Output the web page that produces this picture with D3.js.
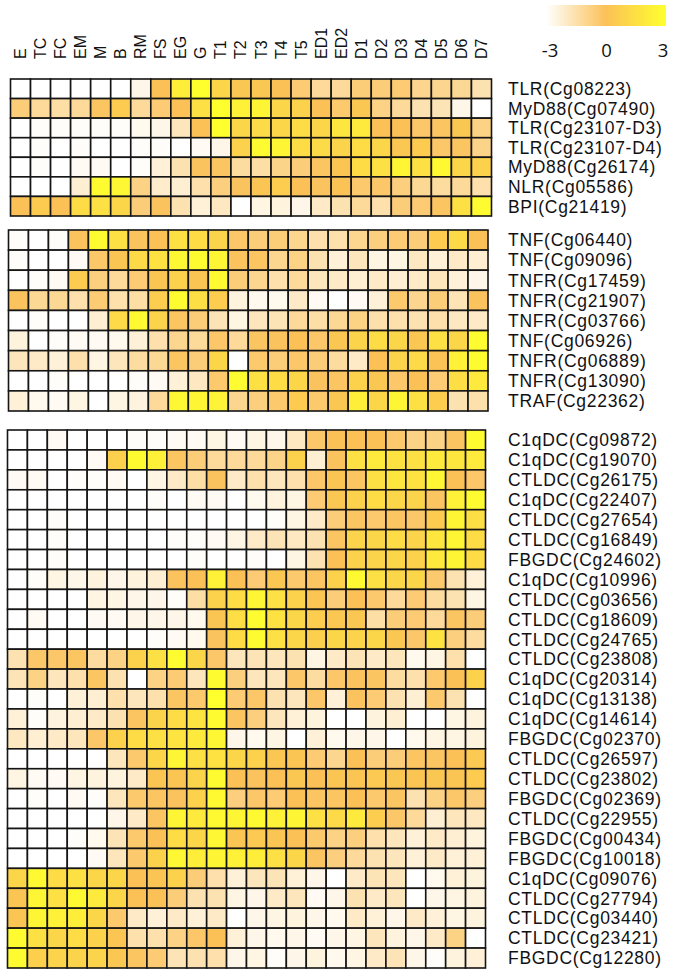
<!DOCTYPE html>
<html>
<head>
<meta charset="utf-8">
<script src="https://cdn.jsdelivr.net/npm/d3@7"></script>
<style>
body { margin: 0; background: #fff; }
svg text { font-family: "Liberation Sans", Arial, sans-serif; fill: #111; }
.legend-label { font-family: "Open Sans", sans-serif; }
</style>
</head>
<body>
<div id="heatmap"></div>
<script>
// sample / stage columns
var samples = ["E", "TC", "FC", "EM", "M", "B", "RM", "FS", "EG", "G", "T1", "T2", "T3", "T4", "T5",
               "ED1", "ED2", "D1", "D2", "D3", "D4", "D5", "D6", "D7"];

// legend ticks
var legendTicks = [-3, 0, 3];

// panel 1 - TLR / MyD88 pathway
var tlrGenes = ["TLR(Cg08223)", "MyD88(Cg07490)", "TLR(Cg23107-D3)", "TLR(Cg23107-D4)",
                "MyD88(Cg26174)", "NLR(Cg05586)", "BPI(Cg21419)"];
var tlrValues = [
  [-3,-3,-3,-3,-3,-3,-2.6,0,2.2,3,1,0.3,0.3,0,-0.5,-1.2,-1.2,-0.6,-0.6,-0.5,-1,-1,-1.1,-1.6],
  [-0.6,-1.2,-1.4,-1.2,-0.2,0.5,-1.2,-0.5,0,1.5,3,2.3,2.5,1,0.8,0,-0.4,0.3,-0.8,-1.2,-1.6,-1.7,-2.6,-3],
  [-3,-2.9,-2.9,-2.9,-2.9,-2.9,-2.7,-2.6,-1.8,0,3,1,1.2,1,1.3,1,1.8,2,0,0,-0.3,-0.2,0.3,-0.8],
  [-3,-2.9,-3,-2.9,-3,-3,-2.9,-2.9,-3,-2.8,-2.6,0.8,2.8,2.5,1.3,1.2,0.9,1.3,1,0.3,0.5,-0.3,-0.2,-0.9],
  [-3,-2.9,-3,-2.8,-2.8,-3,-2.9,-2.3,-1.6,-0.1,-0.2,-1.3,-1.4,-0.9,-0.6,-0.2,0.2,1.3,1.5,2.5,1.5,2.7,1,0.8],
  [-3,-3,-3,-2.2,2.8,2.6,-0.8,-2.1,-2.2,-1.5,-0.7,-0.1,0.2,0.6,0,-0.1,0.1,-0.4,-0.3,-0.7,-1.1,-1.3,-1.2,-1.5],
  [0,0.5,0,1.3,1.5,1,-0.6,-0.1,-1.6,-2.3,-1.9,-3,-2.5,-2.4,-2.6,-2,-1.6,-1.2,-1.5,-0.6,-0.5,-0.2,1.5,2.8]
];

// panel 2 - TNF pathway
var tnfGenes = ["TNF(Cg06440)", "TNF(Cg09096)", "TNFR(Cg17459)", "TNFR(Cg21907)", "TNFR(Cg03766)",
                "TNF(Cg06926)", "TNFR(Cg06889)", "TNFR(Cg13090)", "TRAF(Cg22362)"];
var tnfValues = [
  [-2.9,-3,-2.9,-0.1,2.8,1.5,-0.1,0,1.5,1.3,0.9,-0.3,-0.6,-0.6,-1,-1.5,-1.5,-1,-0.7,-0.5,-0.6,0.5,1.2,0],
  [-2.9,-3,-3,-2.8,-0.3,0.2,1.2,1.6,2.6,2.8,2.5,-0.1,-0.2,-1,-0.8,-1.6,-2.3,-1.8,-2.5,-2.5,-1.9,-2.3,-2,-2.2],
  [-3,-2.9,-2.8,0.5,-0.7,-1.2,-0.5,0.2,0.8,0.2,2.7,-0.6,-1,-1.5,-1.2,-1.8,-2,-2.2,-2,-2.2,-2,-1.8,-2.3,-2.6],
  [-0.1,-1.1,-1.1,-1.5,-0.5,-1.5,-1.4,0.6,2.8,1.4,0.6,-2.4,-2.7,-2.7,-2,-2.8,-3,-2.8,-2.3,-0.4,-1,-0.6,-1.7,-0.1],
  [-3,-2.9,-3,-3,-2.2,1.2,2.7,0.9,-0.2,-0.6,-1.7,-2.5,-1.8,-1.7,-1.2,-1.4,-1.1,-0.8,-1.5,-1.5,-1.6,-1.5,-1.9,-2],
  [-2.4,-3,-2.9,-2.8,-2.8,-2.7,-2.3,-1.5,-1,-1.2,-0.3,-1.2,-0.2,-0.1,0,-0.3,0.3,0.9,1.3,1,0.3,1.5,1,2.8],
  [-1.8,-2,-2.3,-1.5,-2.5,-1.8,-1.3,-1.1,-0.2,-0.6,1,-3,-0.4,-0.6,-0.3,-0.6,-1.3,-2,0,0.9,1.2,0.1,2.3,2.8],
  [-3,-3,-2.9,-3,-3,-3,-2.9,-2.8,-2.3,-1.9,-0.4,2.8,1.5,1.3,1,-0.1,-0.2,0.8,0.3,-0.3,0,-0.5,1.4,2],
  [-2.3,-2.7,-2.8,-2.5,-3,-2.5,-2.4,-1.2,2.6,2.5,2.4,-1,-0.7,-0.4,0.5,-0.4,0.3,2.2,1,2.5,1.5,0.6,-1.6,-1.5]
];

// panel 3 - lectins
var lectinGenes = ["C1qDC(Cg09872)", "C1qDC(Cg19070)", "CTLDC(Cg26175)", "C1qDC(Cg22407)",
                   "CTLDC(Cg27654)", "CTLDC(Cg16849)", "FBGDC(Cg24602)", "C1qDC(Cg10996)",
                   "CTLDC(Cg03656)", "CTLDC(Cg18609)", "CTLDC(Cg24765)", "CTLDC(Cg23808)",
                   "C1qDC(Cg20314)", "C1qDC(Cg13138)", "C1qDC(Cg14614)", "FBGDC(Cg02370)",
                   "CTLDC(Cg26597)", "CTLDC(Cg23802)", "FBGDC(Cg02369)", "CTLDC(Cg22955)",
                   "FBGDC(Cg00434)", "FBGDC(Cg10018)", "C1qDC(Cg09076)", "CTLDC(Cg27794)",
                   "CTLDC(Cg03440)", "CTLDC(Cg23421)", "FBGDC(Cg12280)"];
var lectinValues = [
  [-3,-3,-2.8,-3,-3,-3,-2.9,-2.9,-2.8,-2.8,-2.5,-2.8,-2.5,-2.6,-1.9,-0.3,0,0,0,-0.4,-0.8,-0.8,-0.2,2.8],
  [-3,-3,-3,-3,-2.8,0.7,2.8,2.3,-0.2,-0.6,-1.2,-1.2,-1.2,-0.9,0.8,-2.2,-0.1,1.5,2,1.6,1.5,2,1.8,2],
  [-2.8,-2.8,-3,-2.9,-2.9,-2.8,-3,-2.5,-2,-1.4,-0.1,-2,-1.5,-1.8,-1.5,-0.3,0.2,-0.2,1.5,1.8,1.6,2.6,0,-0.3],
  [-3,-3,-3,-3,-3,-3,-3,-2.9,-3,-2.8,-2.8,-3,-2.7,-2.4,-2.5,-0.5,0.3,0.8,1.3,1,0.9,-0.2,2.3,2.8],
  [-3,-3,-2.9,-3,-3,-3,-3,-3,-3,-3,-3,-3,-3,-2.9,-2.5,-2,-0.6,-0.2,-0.4,-0.2,-0.3,0.5,2.5,1.4],
  [-3,-3,-2.9,-3,-3,-3,-3,-3,-2.9,-2.9,-2.8,-2.5,-2,-1.7,-1.9,-1.6,-0.2,0.9,1,1.3,0.9,1.8,2.5,1.3],
  [-3,-3,-2.9,-3,-3,-3,-3,-3,-3,-2.9,-3,-3,-2.9,-3,-2.5,-1.6,0,0.8,0.9,1,0.8,2,2.5,1.3],
  [-3,-2.9,-2.5,-2.6,-2.4,-2.6,-2.4,-2.2,-0.1,0,2.3,0,-0.5,0.3,-0.4,-0.2,0.8,2.7,1.5,1,1,-0.4,-1.6,-2.3],
  [-3,-3,-3,-3,-2.5,-2.5,-2.6,-2.6,-2.9,-1.4,0.8,1.3,2.5,1.5,0.8,0.2,-0.6,0,-0.4,-1.2,-0.5,-1.3,-1.6,-2.5],
  [-3,-2.8,-3,-3,-2.8,-2.8,-2.6,-2.6,-2.6,-2.7,0.2,1.4,2.8,1.6,1,0.6,0.3,0.3,-1.4,-0.6,-0.5,-1.2,-0.2,-0.6],
  [-3,-3,-3,-3,-3,-3,-3,-2.9,-2.8,-2.7,-0.1,1.3,2.8,1.5,1,0.7,1,0.9,1,0.3,-0.3,1.6,-0.7,-1.3],
  [-1.6,-0.3,-0.3,-0.2,-1.3,-0.8,0.8,1.5,2.8,1,-0.3,-1.8,-1.7,-1.8,-1.6,-2.5,-2,-1.7,-2,-1.8,-2.7,-2.5,-1.5,-3],
  [-1.7,-0.8,-1.8,-1.5,-0.2,-1.6,-3,-0.8,-0.5,-1.8,2.8,-0.7,-1.8,-1.8,-0.3,-1.3,-0.3,-0.1,-0.2,-1.3,-1.5,-0.4,0,0.8],
  [-3,-2.9,-3,-2.3,-2.2,-1.5,-1.8,-1.5,-0.2,-0.4,3,-0.5,-0.3,-1.6,-1.8,-0.3,-2.3,-0.1,-0.5,-1.6,-2.2,-0.4,-1.6,-3],
  [-2.3,-2.9,-2.4,-2.2,-2,-1.6,-0.2,0.9,1.3,1.7,2.8,-0.2,-0.7,-1.8,-2.3,-2.4,-3,-3,-2.4,-2.2,-3,-3,-2.5,-2.4],
  [-1.9,-2.2,-2,-1.8,-0.3,0.8,1.3,1.5,1.7,2,2.6,-2.6,-2.7,-2.5,-3,-2.3,-2.7,-2.6,-2.6,-3,-2.7,-2.5,-2.5,-2.4],
  [-3,-3,-3,-3,-3,-1.8,-0.4,1,2.5,1.5,1.6,1,0.8,0.3,0.2,-0.5,-1,0,-0.6,-0.6,-0.2,-0.2,0,0.4],
  [-2.5,-2.8,-2.8,-2.5,-2.4,-2.4,-2,0.2,0.2,0.9,2.8,0,-0.1,0,0.3,0,0.2,0.2,0.4,0.3,0.2,0.3,0.2,0.5],
  [-3,-2.9,-3,-2.8,-2.9,-1.8,-0.4,-0.2,-0.1,0.8,2.7,-0.7,-0.3,-0.5,0,-0.2,-0.2,0,-0.4,-0.2,-1.6,-0.8,-0.3,-0.7],
  [-3,-3,-3,-3,-3,-2.6,-2,-0.2,2.5,2,2.7,2.5,2.7,2.3,2.5,1.5,1.2,2,0.6,-0.3,-1.2,-2.2,-1.8,-1.9],
  [-3,-3,-3,-2.9,-2.7,-1.7,-0.4,0,1.3,1,2.6,0.2,0.4,0.2,0,-0.4,-0.8,-0.7,-1.5,-1.8,-2.3,-2,-2.2,-2.4],
  [-3,-3,-3,-3,-2.8,-1.8,-0.4,0.8,2.6,2.2,2.5,2.3,2.2,1.5,1,-0.2,-0.7,-1.2,-1.6,-1.8,-2.3,-2,-2.3,-2.3],
  [1,2.7,1.3,1.5,1,1,0,0.2,0.8,-0.6,-1.5,-2.3,-1.8,-1.7,-2.3,-2.6,-3,-2,-1.7,-1.8,-3,-2.7,-2.3,-2.4],
  [0.2,2.5,1.5,2.7,2,1,0,0,-0.6,-1.6,-1.6,-2.5,-2.6,-2,-1.8,-2.8,-2.6,-1.6,-2,-1.8,-3,-2.6,-2.5,-2.4],
  [0.2,2.5,2.3,2.2,1,-0.4,-2,-2.3,-2,-2.3,-2,-3,-2.6,-2.5,-2.4,-2.6,-2.7,-2,-2.3,-2.6,-2,-2.3,-2.5,-2.4],
  [2.8,1.5,1,1.3,0.8,0.2,-1.5,-1.5,-0.8,-0.3,0,-2.3,-2.6,-2.7,-2.6,-2.8,-2.6,-2.5,-1.8,-2.4,-2.6,-2,-0.8,-3],
  [2.8,0.7,0.9,0.9,0.9,0.3,-0.2,-0.5,-1.7,-1.6,-1.5,-2.6,-2.5,-2.9,-2.6,-2.4,-2.7,-2.5,-2,-1.7,-2.6,-2.9,-2.4,-2.3]
];

var width = 686, height = 975;

var color = d3.scaleLinear()
  .domain([-3, 0, 3])
  .range(["#ffffff", "#fbc157", "#ffff2e"]);

// where each block sits on the page
var panels = [
  {genes: tlrGenes, values: tlrValues, left: 10.5, right: 491.5, top: 79, bottom: 216},
  {genes: tnfGenes, values: tnfValues, left: 8.5, right: 488, top: 230, bottom: 411},
  {genes: lectinGenes, values: lectinValues, left: 7.5, right: 485.5, top: 430, bottom: 968}
];

var svg = d3.select("#heatmap").append("svg")
  .attr("width", width)
  .attr("height", height);

panels.forEach(function(p, i) {
  var x = d3.scaleBand().domain(samples).range([p.left, p.right]);
  var y = d3.scaleBand().domain(p.genes).range([p.top, p.bottom]);

  var cells = [];
  p.genes.forEach(function(g, r) {
    samples.forEach(function(s, c) {
      cells.push({gene: g, sample: s, value: p.values[r][c]});
    });
  });

  var g = svg.append("g").attr("class", "panel panel-" + i);

  g.selectAll("rect")
    .data(cells)
    .enter().append("rect")
    .attr("x", function(d) { return x(d.sample); })
    .attr("y", function(d) { return y(d.gene); })
    .attr("width", x.bandwidth())
    .attr("height", y.bandwidth())
    .attr("fill", function(d) { return color(d.value); })
    .attr("stroke", "#151515")
    .attr("stroke-width", 1.6);

  // gene names on the right (slightly spaced out, rows are tight)
  g.selectAll(".row-label")
    .data(p.genes)
    .enter().append("text")
    .attr("class", "row-label")
    .attr("x", 508)
    .attr("y", function(d) { return y(d) + y.bandwidth() / 2; })
    .attr("dy", "0.36em")
    .style("font-size", "17.5px")
    .style("letter-spacing", "0.7px")
    .text(function(d) { return d; });

  // stage names only over the first block, written bottom to top
  if (i === 0) {
    svg.append("g").selectAll(".col-label")
      .data(samples)
      .enter().append("text")
      .attr("class", "col-label")
      .attr("x", 0)
      .attr("y", 0)
      .attr("transform", function(d) {
        return "translate(" + (x(d) + x.bandwidth() / 2 + 5.5) + ",59) rotate(-90)";
      })
      .style("font-size", "16px")
      .text(function(d) { return d; });
  }
});

// colour key
var defs = svg.append("defs");
var grad = defs.append("linearGradient").attr("id", "key-grad");
d3.range(0, 1.0001, 0.1).forEach(function(t) {
  grad.append("stop")
    .attr("offset", (t * 100) + "%")
    .attr("stop-color", color(-3 + 6 * t));
});

svg.append("rect")
  .attr("x", 546)
  .attr("y", 5)
  .attr("width", 120)
  .attr("height", 21)
  .attr("fill", "url(#key-grad)");

var keyScale = d3.scaleLinear().domain([-3, 3]).range([550, 663]);

svg.append("g").selectAll(".legend-label")
  .data(legendTicks)
  .enter().append("text")
  .attr("class", "legend-label")
  .attr("x", function(d) { return keyScale(d); })
  .attr("y", 57)
  .attr("text-anchor", "middle")
  .style("font-size", "18.5px")
  .text(function(d) { return d; });
</script>
</body>
</html>
